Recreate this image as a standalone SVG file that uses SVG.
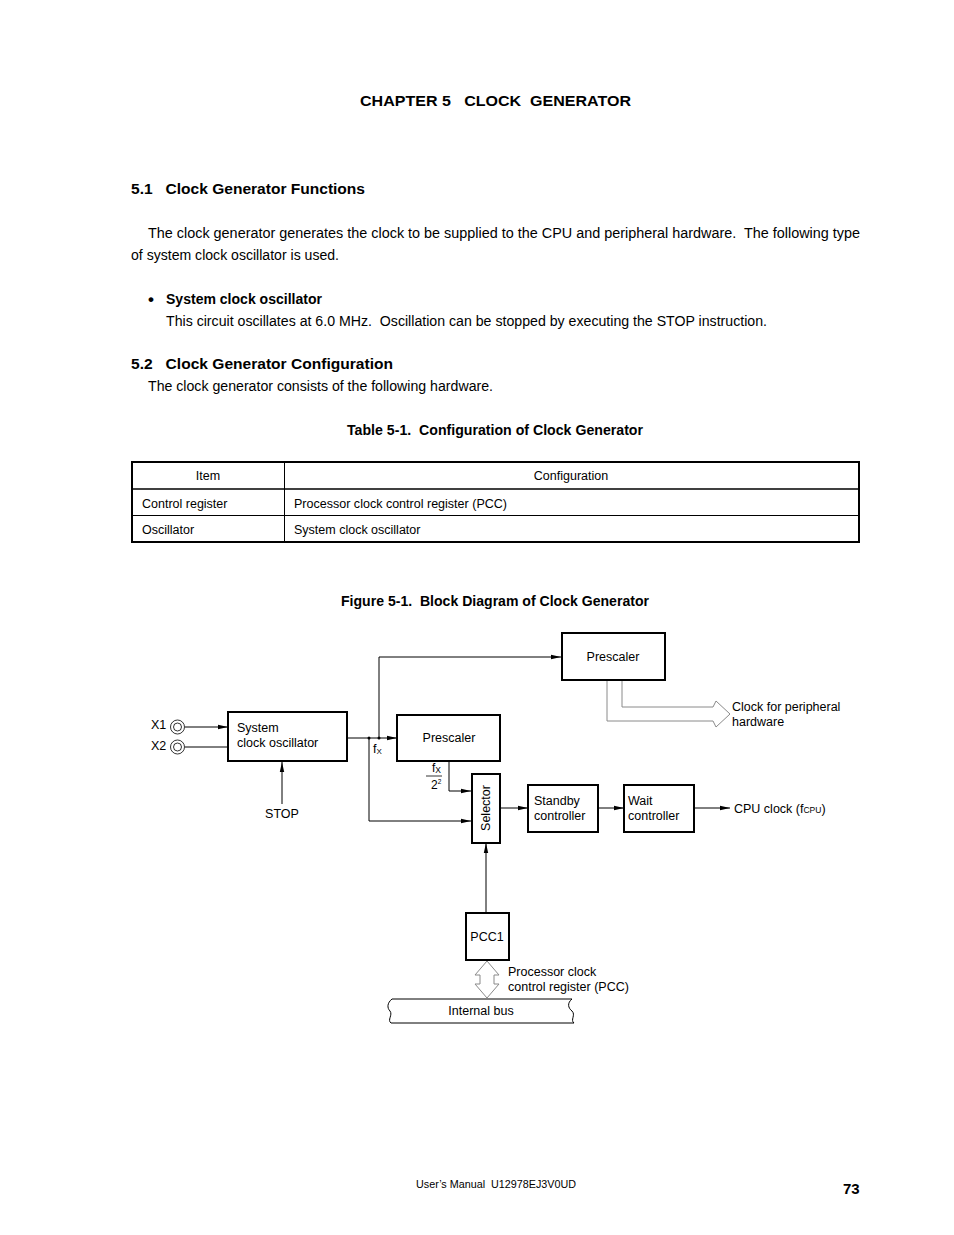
<svg xmlns="http://www.w3.org/2000/svg" width="954" height="1235" viewBox="0 0 954 1235">
<style>
text{font-family:"Liberation Sans",Arial,sans-serif;fill:#000}
.b{font-weight:bold}
.body{font-size:14px}
.tb{font-size:12.5px}
.d{font-size:12.5px}
.box{fill:#fff;stroke:#000;stroke-width:2}
.ln{fill:none;stroke:#000;stroke-width:1}
.gr{fill:#fff;stroke:#8a8a8a;stroke-width:1}
</style>
<defs>
<marker id="ah" viewBox="0 0 10 6" refX="10" refY="3" markerWidth="10" markerHeight="6" markerUnits="userSpaceOnUse" orient="auto">
<path d="M0,0.8 L10,3 L0,5.2 Z" fill="#000"/>
</marker>
</defs>
<rect width="954" height="1235" fill="#fff"/>

<text class="b body" x="360" y="106" textLength="271" lengthAdjust="spacingAndGlyphs" xml:space="preserve">CHAPTER 5   CLOCK  GENERATOR</text>
<text class="b body" x="131" y="194" textLength="234" lengthAdjust="spacingAndGlyphs" xml:space="preserve">5.1   Clock Generator Functions</text>
<text class="body" x="148" y="238" textLength="712" lengthAdjust="spacingAndGlyphs" xml:space="preserve">The clock generator generates the clock to be supplied to the CPU and peripheral hardware.  The following type</text>
<text class="body" x="131" y="260" textLength="208" lengthAdjust="spacingAndGlyphs">of system clock oscillator is used.</text>
<text class="b" x="148" y="305" style="font-size:17px">•</text>
<text class="b body" x="166" y="304" textLength="156" lengthAdjust="spacingAndGlyphs">System clock oscillator</text>
<text class="body" x="166" y="326" textLength="601" lengthAdjust="spacingAndGlyphs" xml:space="preserve">This circuit oscillates at 6.0 MHz.  Oscillation can be stopped by executing the STOP instruction.</text>
<text class="b body" x="131" y="369" textLength="262" lengthAdjust="spacingAndGlyphs" xml:space="preserve">5.2   Clock Generator Configuration</text>
<text class="body" x="148" y="391" textLength="345" lengthAdjust="spacingAndGlyphs">The clock generator consists of the following hardware.</text>
<text class="b body" x="347" y="435" textLength="296" lengthAdjust="spacingAndGlyphs" xml:space="preserve">Table 5-1.  Configuration of Clock Generator</text>

<g id="table">
<rect x="132" y="462" width="727" height="80" fill="none" stroke="#000" stroke-width="2"/>
<line x1="132" y1="489" x2="859" y2="489" stroke="#000" stroke-width="1.5"/>
<line x1="132" y1="515.5" x2="859" y2="515.5" stroke="#000" stroke-width="1"/>
<line x1="284.5" y1="462" x2="284.5" y2="542" stroke="#000" stroke-width="1"/>
<text class="tb" x="208" y="480" text-anchor="middle">Item</text>
<text class="tb" x="571" y="480" text-anchor="middle">Configuration</text>
<text class="tb" x="142" y="508">Control register</text>
<text class="tb" x="294" y="508" textLength="213" lengthAdjust="spacingAndGlyphs">Processor clock control register (PCC)</text>
<text class="tb" x="142" y="534">Oscillator</text>
<text class="tb" x="294" y="534">System clock oscillator</text>
</g>

<text class="b body" x="341" y="606" textLength="308" lengthAdjust="spacingAndGlyphs" xml:space="preserve">Figure 5-1.  Block Diagram of Clock Generator</text>

<g id="connectors">
<line class="ln" x1="185" y1="727" x2="228" y2="727" marker-end="url(#ah)"/>
<line class="ln" x1="185" y1="747" x2="228" y2="747"/>
<line class="ln" x1="282" y1="804" x2="282" y2="762" marker-end="url(#ah)"/>
<line class="ln" x1="347" y1="738" x2="397" y2="738" marker-end="url(#ah)"/>
<polyline class="ln" points="379,738 379,657 561,657" marker-end="url(#ah)"/>
<polyline class="ln" points="369,738 369,821 471,821" marker-end="url(#ah)"/>
<circle cx="369" cy="738" r="1.5" fill="#000"/>
<circle cx="379" cy="738" r="1.5" fill="#000"/>
<polyline class="ln" points="449,761 449,791 471,791" marker-end="url(#ah)"/>
<line class="ln" x1="500" y1="808" x2="528" y2="808" marker-end="url(#ah)"/>
<line class="ln" x1="598" y1="808" x2="624" y2="808" marker-end="url(#ah)"/>
<line class="ln" x1="694" y1="808" x2="730" y2="808" marker-end="url(#ah)"/>
<line class="ln" x1="486" y1="913" x2="486" y2="843" marker-end="url(#ah)"/>
<path class="gr" fill="none" d="M622,680 V707 H713 L716,701 L730,714 L716,727 L713,721 H607 V680"/>
<polygon class="gr" points="487,961 499,975 494,975 494,984 499,984 487,998 475,984 480,984 480,975 475,975"/>
</g>

<g id="x1">
<circle cx="177.5" cy="727" r="7" fill="#fff" stroke="#000" stroke-width="0.8"/>
<circle cx="177.5" cy="727" r="4" fill="none" stroke="#000" stroke-width="0.8"/>
<text class="d" x="151" y="729">X1</text>
</g>
<g id="x2">
<circle cx="177.5" cy="747" r="7" fill="#fff" stroke="#000" stroke-width="0.8"/>
<circle cx="177.5" cy="747" r="4" fill="none" stroke="#000" stroke-width="0.8"/>
<text class="d" x="151" y="750">X2</text>
</g>

<g id="oscillator">
<rect class="box" x="228" y="712" width="119" height="49"/>
<text class="d" x="237" y="732">System</text>
<text class="d" x="237" y="747">clock oscillator</text>
</g>
<text class="d" x="282" y="818" text-anchor="middle">STOP</text>
<text class="d" x="373" y="753">f<tspan font-size="8" dy="1">X</tspan></text>

<g id="prescaler-top">
<rect class="box" x="562" y="633" width="103" height="47" stroke-width="2.5"/>
<text class="d" x="613" y="661" text-anchor="middle">Prescaler</text>
</g>

<g id="prescaler">
<rect class="box" x="397" y="715" width="103" height="46"/>
<text class="d" x="449" y="742" text-anchor="middle">Prescaler</text>
</g>

<g id="fx-div">
<text x="432" y="771.5" style="font-size:12px">f<tspan font-size="8.5" dy="1">X</tspan></text>
<line x1="426" y1="776" x2="442" y2="776" stroke="#000" stroke-width="0.8"/>
<text x="431" y="789" style="font-size:12px">2<tspan font-size="6.5" dy="-5">2</tspan></text>
</g>

<g id="selector">
<rect class="box" x="472" y="774" width="28" height="69"/>
<text class="d" transform="translate(490,808) rotate(-90)" text-anchor="middle">Selector</text>
</g>

<g id="standby">
<rect class="box" x="528" y="785" width="70" height="47"/>
<text class="d" x="534" y="805">Standby</text>
<text class="d" x="534" y="820">controller</text>
</g>

<g id="wait">
<rect class="box" x="624" y="785" width="70" height="47"/>
<text class="d" x="628" y="805">Wait</text>
<text class="d" x="628" y="820">controller</text>
</g>

<text class="d" x="734" y="813">CPU clock (f<tspan font-size="8.5">CPU</tspan>)</text>
<text class="d" x="732" y="711">Clock for peripheral</text>
<text class="d" x="732" y="726">hardware</text>

<g id="pcc1">
<rect class="box" x="466" y="913" width="43" height="47"/>
<text class="d" x="487" y="941" text-anchor="middle">PCC1</text>
</g>
<text class="d" x="508" y="976">Processor clock</text>
<text class="d" x="508" y="991">control register (PCC)</text>

<g id="internal-bus">
<path d="M392,999 H572" class="ln"/>
<path d="M391,1023 H574" class="ln"/>
<path class="ln" d="M392,999 C387,1003 387,1008 390,1011 C393,1015 387,1020 391,1023"/>
<path class="ln" d="M572,999 C567,1003 568,1008 572,1011 C576,1015 570,1020 574,1023"/>
<text class="d" x="481" y="1015" text-anchor="middle">Internal bus</text>
</g>

<text x="416" y="1188" style="font-size:10.5px" textLength="160" lengthAdjust="spacingAndGlyphs" xml:space="preserve">User’s Manual  U12978EJ3V0UD</text>
<text class="b" x="843" y="1194" style="font-size:15px">73</text>
</svg>
